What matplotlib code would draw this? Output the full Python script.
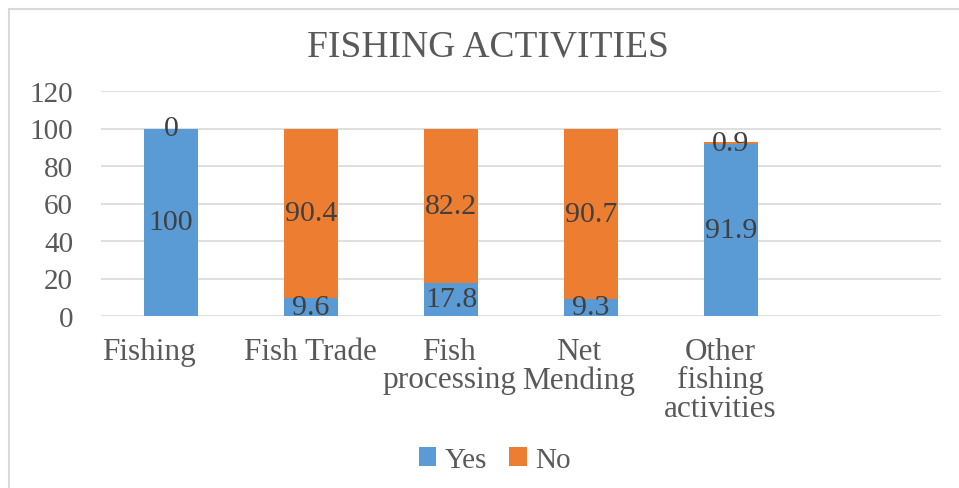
import matplotlib
matplotlib.use("Agg")
import matplotlib.pyplot as plt
from matplotlib.patches import Rectangle
import numpy as np

categories = ["Fishing", "Fish Trade", "Fish\nprocessing", "Net\nMending", "Other\nfishing\nactivities"]
yes_vals = [100, 9.6, 17.8, 9.3, 91.9]
no_vals = [0, 90.4, 82.2, 90.7, 0.9]
series_names = ["Yes", "No"]
title = "FISHING ACTIVITIES"

# layout: horizontal nudge of each category label (in category widths), as in the original
label_shift = [-0.157, -0.007, -0.014, -0.086, -0.079]

BLUE = "#5B9BD5"
ORANGE = "#ED7D31"
TXT = "#595959"
LBL = "#404040"
GRID = "#D9D9D9"

plt.rcParams['font.family'] = ['Liberation Serif', 'DejaVu Serif']

W, H = 959, 489
fig = plt.figure(figsize=(W / 100, H / 100), dpi=100)
ax = fig.add_axes([101 / W, 1 - 317 / H, (941 - 101) / W, (317 - 92) / H])

x = np.arange(len(categories))
bw = 0.39
b1 = ax.bar(x, yes_vals, bw, color=BLUE, label=series_names[0], zorder=3)
b2 = ax.bar(x, no_vals, bw, bottom=yes_vals, color=ORANGE, label=series_names[1], zorder=3)

for xi, y, n in zip(x, yes_vals, no_vals):
    ax.text(xi, y / 2, f"{y:g}", ha="center", va="center", fontsize=21.5, color=LBL, zorder=4)
    ax.text(xi, y + n / 2, f"{n:g}", ha="center", va="center", fontsize=21.5, color=LBL, zorder=4)

ax.set_xlim(-0.5, 5.5)
ax.set_ylim(0, 120)
ax.set_yticks(np.arange(0, 121, 20))
ax.set_xticks(x + np.array(label_shift))
ax.set_xticklabels(categories, fontsize=22.5, color=TXT, linespacing=0.98)
ax.tick_params(axis="y", length=0, pad=20, labelsize=21, labelcolor=TXT)
ax.tick_params(axis="x", length=0, pad=15)
ax.grid(axis="y", color=GRID, linewidth=1.2, zorder=0)
for s in ax.spines.values():
    s.set_visible(False)

fig.text(488 / W, 1 - 47 / H, title, ha="center", va="center", fontsize=27, color=TXT)

fig.legend(handles=[b1, b2], labels=series_names, loc="center", bbox_to_anchor=(495 / W, 1 - 461 / H),
           ncol=2, frameon=False, fontsize=21, handlelength=0.6, handleheight=0.6,
           handletextpad=0.3, columnspacing=0.75, labelcolor=TXT, borderpad=0.1)

fig.patches.append(Rectangle((9 / W, -0.05), 1.1, 1 - 10 / H + 0.05, transform=fig.transFigure,
                             fill=False, edgecolor="#D9D9D9", linewidth=1.5))

fig.savefig("out.png", dpi=100)
